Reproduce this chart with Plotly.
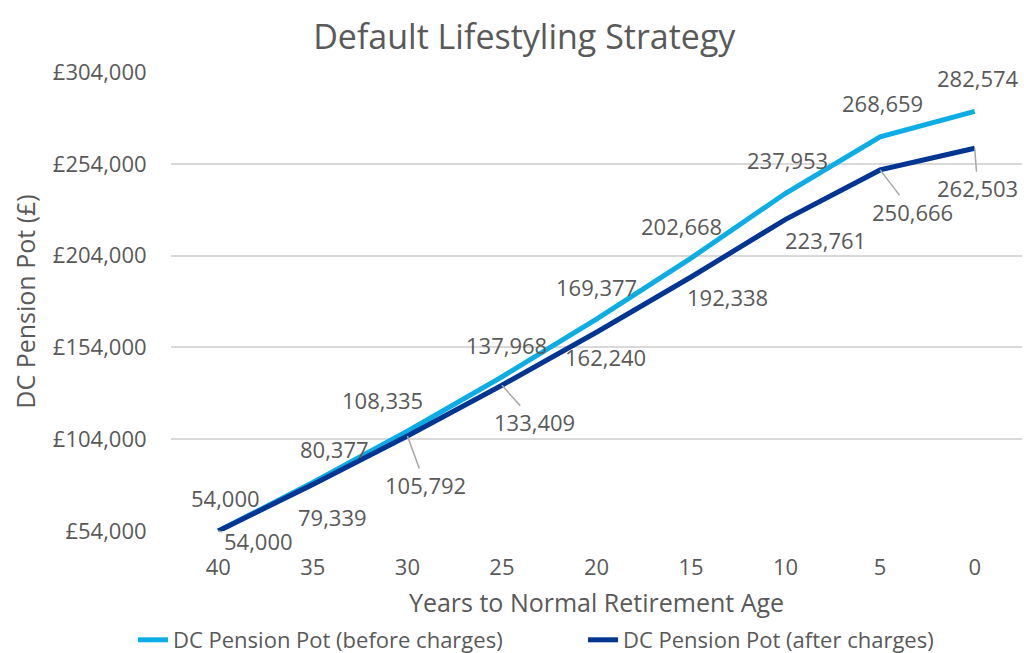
import plotly.graph_objects as go

years = ["40", "35", "30", "25", "20", "15", "10", "5", "0"]
before_charges = [54000, 80377, 108335, 137968, 169377, 202668, 237953, 268659, 282574]
after_charges = [54000, 79339, 105792, 133409, 162240, 192338, 223761, 250666, 262503]
y_ticks = [54000, 104000, 154000, 204000, 254000, 304000]
y_tick_text = [f"£{v:,}" for v in y_ticks]

series_names = ["DC Pension Pot (before charges)", "DC Pension Pot (after charges)"]

# label offsets (pixels) - styling only
before_off = [(7, -33), (22, -34), (-25, -31), (5, -32), (0, -32), (-10, -32), (2, -33), (2, -34), (3, -33)]
after_off = [(40, 10), (20, 33), (18, 49), (33, 37), (9, 25), (36, 20), (40, 21), (32, 42), (3, 40)]
after_leader = [True, False, True, True, False, False, False, True, True]

LIGHT = "#0CADE4"
DARK = "#003591"
TXT = "#595959"
FONT = "Open Sans"
LBL = 22

fig = go.Figure()
fig.add_trace(go.Scatter(x=years, y=before_charges, mode="lines", name=series_names[0],
                         line=dict(color=LIGHT, width=5), cliponaxis=False, legend="legend"))
fig.add_trace(go.Scatter(x=years, y=after_charges, mode="lines", name=series_names[1],
                         line=dict(color=DARK, width=5), cliponaxis=False, legend="legend2"))

annotations = []
for i, (yv, (ax, ay)) in enumerate(zip(before_charges, before_off)):
    annotations.append(dict(x=i, y=yv, text=f"{yv:,}", showarrow=True, ax=ax, ay=ay,
                            arrowcolor="rgba(0,0,0,0)", arrowwidth=1, arrowhead=0,
                            font=dict(family=FONT, size=LBL, color=TXT)))
for i, (yv, (ax, ay), lead) in enumerate(zip(after_charges, after_off, after_leader)):
    annotations.append(dict(x=i, y=yv, text=f"{yv:,}", showarrow=True, ax=ax, ay=ay,
                            arrowcolor="#A6A6A6" if lead else "rgba(0,0,0,0)", arrowwidth=1.5, arrowhead=0,
                            font=dict(family=FONT, size=LBL, color=TXT)))

legend_common = dict(orientation="h", xref="container", yref="container", xanchor="left",
                     y=13 / 653, yanchor="middle", font=dict(family=FONT, size=LBL, color=TXT),
                     bgcolor="rgba(0,0,0,0)")

fig.update_layout(
    width=1024, height=653,
    paper_bgcolor="white", plot_bgcolor="white",
    margin=dict(l=171, r=2, t=72, b=122, autoexpand=False),
    title=dict(text="Default Lifestyling Strategy", x=0.512, xanchor="center", xref="container",
               y=1 - 37 / 653, yanchor="middle", yref="container",
               font=dict(family=FONT, size=34, color=TXT)),
    font=dict(family=FONT, color=TXT),
    showlegend=True,
    legend=dict(x=133 / 1024, **legend_common),
    legend2=dict(x=583 / 1024, **legend_common),
    annotations=annotations,
)
fig.update_xaxes(type="category", categoryorder="array", categoryarray=years,
                 range=[-0.5, len(years) - 0.5], automargin=True,
                 showgrid=False, zeroline=False, showline=False,
                 ticks="outside", ticklen=17, tickcolor="rgba(0,0,0,0)",
                 tickfont=dict(family=FONT, size=LBL, color=TXT),
                 title=dict(text="Years to Normal Retirement Age", standoff=18,
                            font=dict(family=FONT, size=25, color=TXT)))
fig.update_yaxes(range=[54000, 304000], tickvals=y_ticks, ticktext=y_tick_text, automargin=False,
                 showgrid=True, gridcolor="#D9D9D9", gridwidth=1.5, zeroline=False, showline=False,
                 ticks="outside", ticklen=19, tickcolor="rgba(0,0,0,0)",
                 tickfont=dict(family=FONT, size=LBL, color=TXT),
                 title=dict(text="DC Pension Pot (£)", standoff=10,
                            font=dict(family=FONT, size=25, color=TXT)))

fig.write_html("out.html", config={"displayModeBar": False},
               post_script="document.body.style.margin='0';")
